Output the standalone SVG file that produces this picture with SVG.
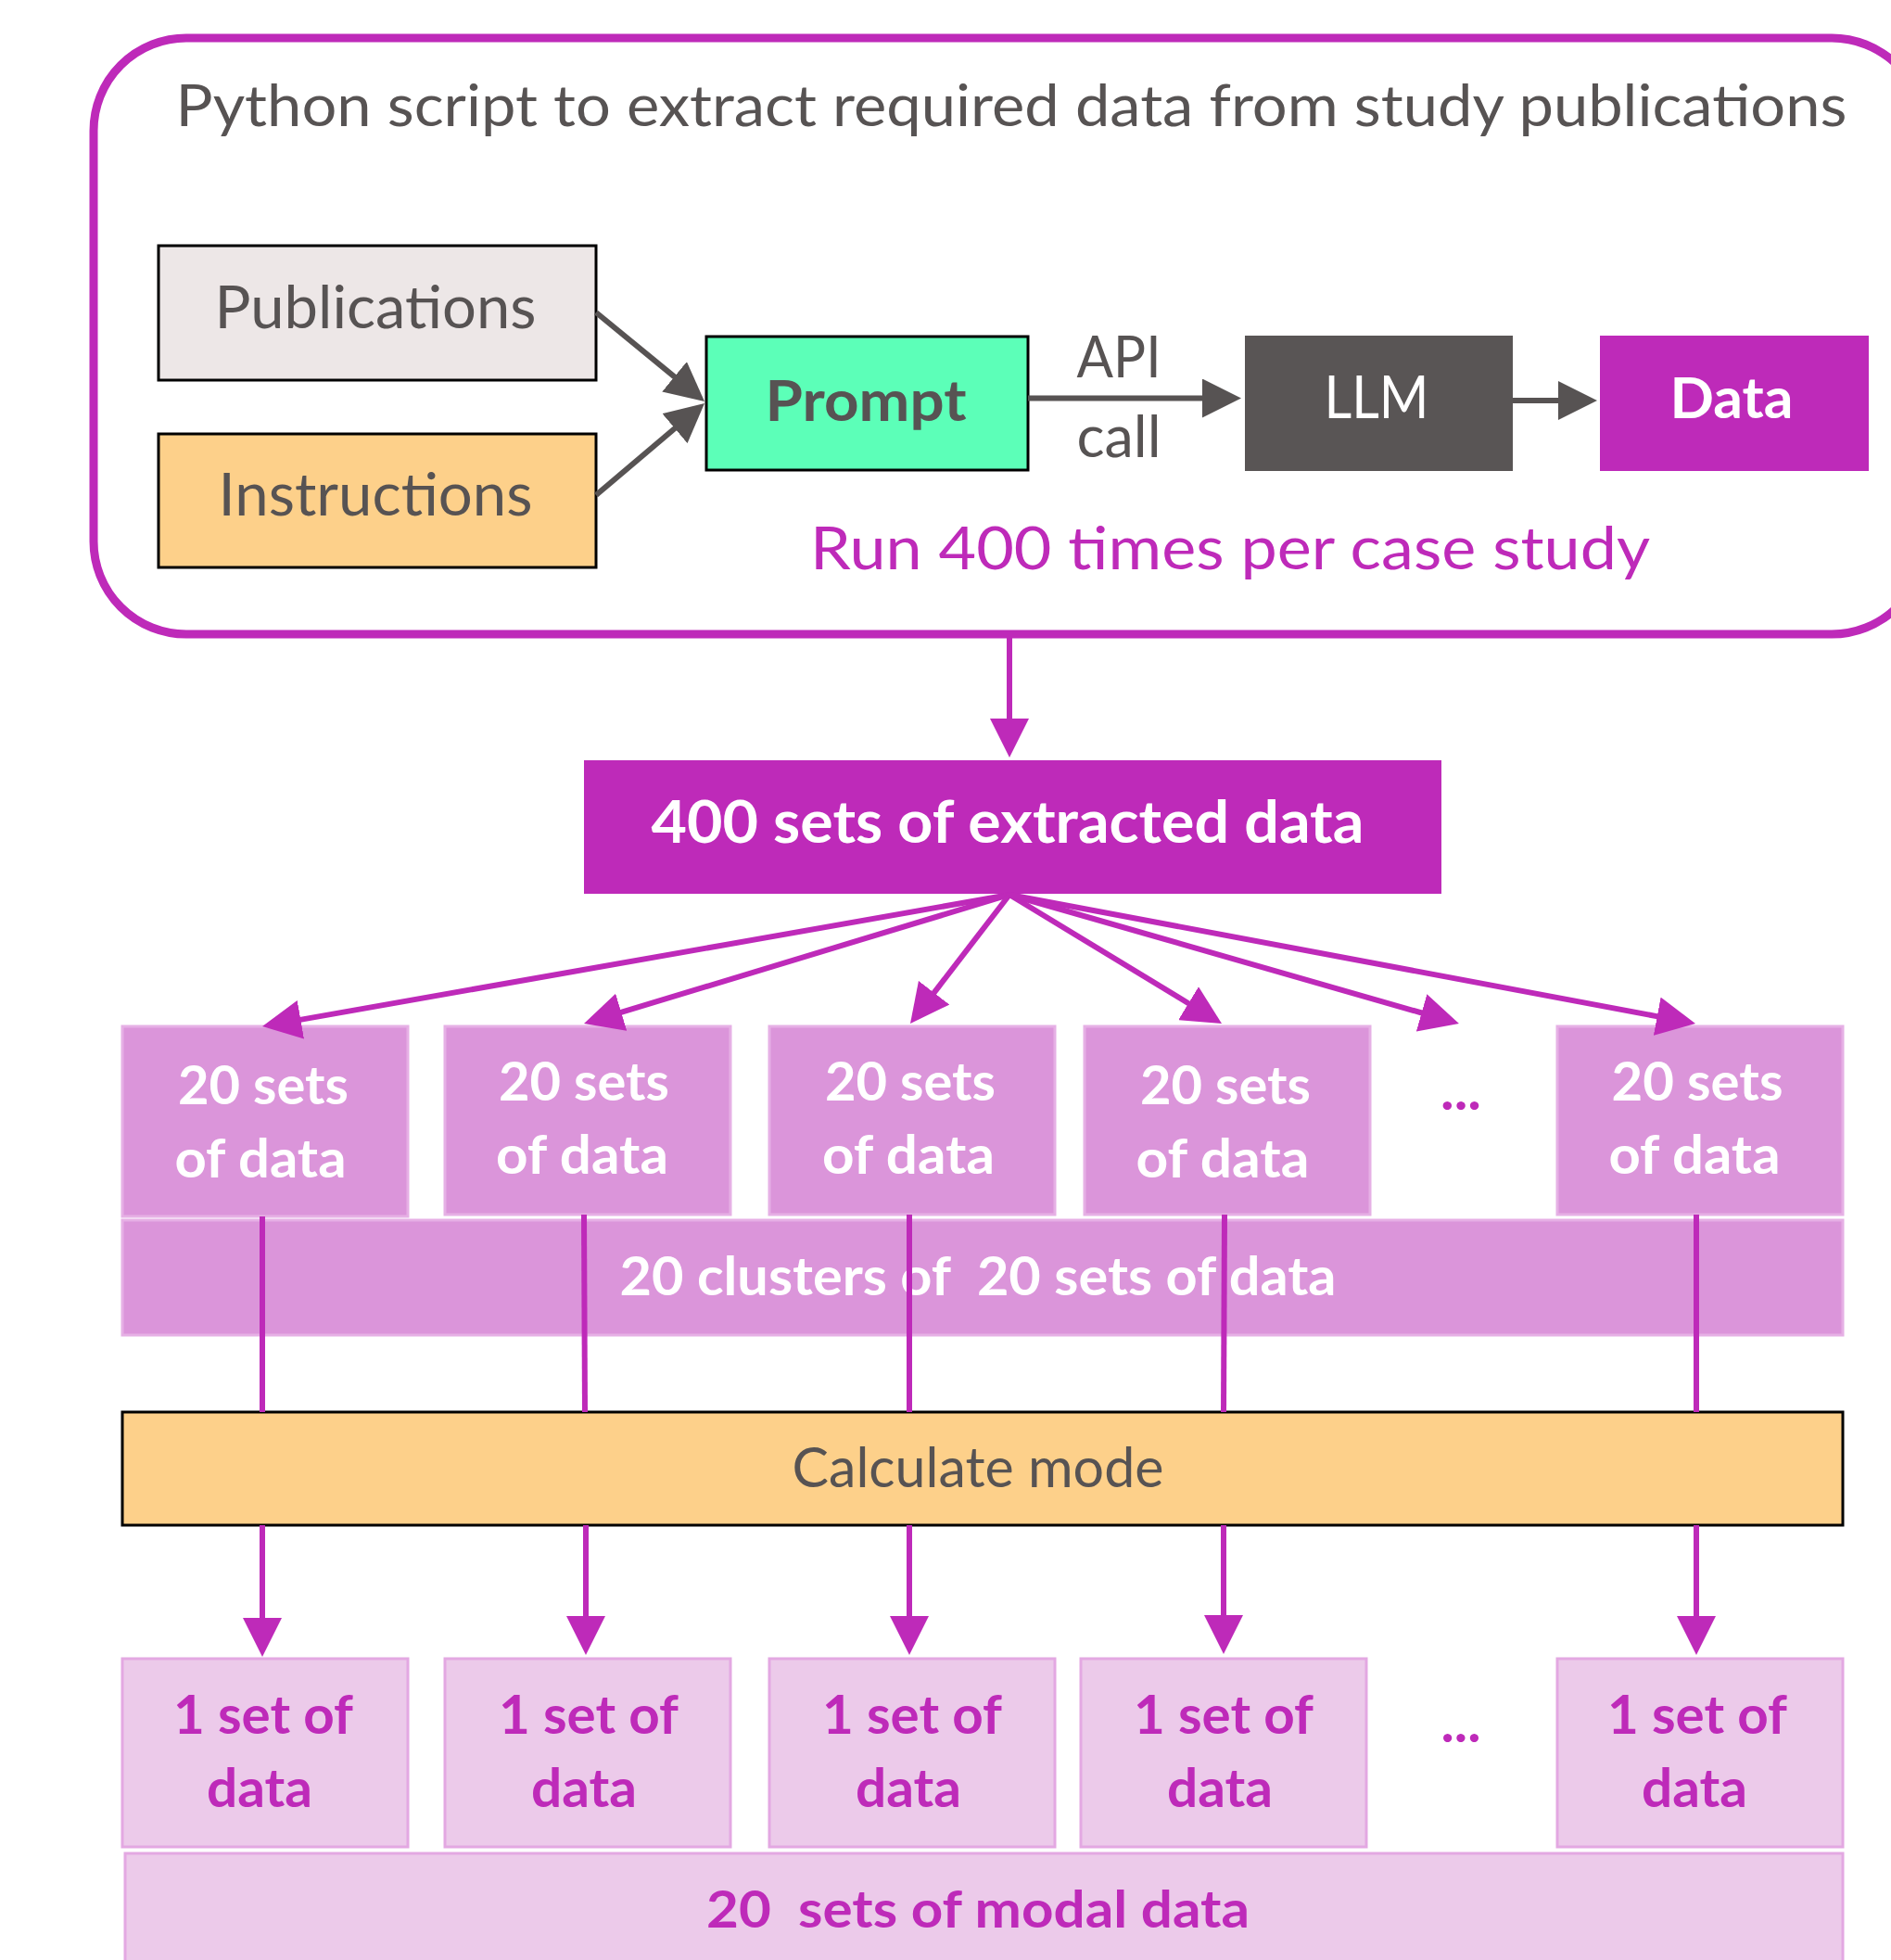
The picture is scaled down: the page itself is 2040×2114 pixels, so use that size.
<svg xmlns="http://www.w3.org/2000/svg" width="2040" height="2114" viewBox="0 0 2040 2114">
  <style>
    text { font-family: Lato, "Open Sans", "Liberation Sans", sans-serif; text-anchor: middle; }
    .gray { fill: #575353; }
    .white { fill: #ffffff; }
    .mag { fill: #BE2AB9; }
    .bold { font-weight: 700; }
    .outlined { stroke: #000000; stroke-width: 3; }
    .set20 { fill: #DB95DA; stroke: #E6B0E5; stroke-width: 3; }
    .set1 { fill: #ECCAEA; stroke: #E3A8E2; stroke-width: 3; }
    .link-gray { stroke: #575353; stroke-width: 6; fill: none; marker-end: url(#head-gray); }
    .link-mag { stroke: #BE2AB9; stroke-width: 6; fill: none; }
    .link-mag.arrow { marker-end: url(#head-mag); }
  </style>
  <defs>
    <marker id="head-gray" markerUnits="userSpaceOnUse" markerWidth="42" markerHeight="42" refX="2" refY="21" orient="auto">
      <path d="M0,0 L42,21 L0,42 z" fill="#575353"/>
    </marker>
    <marker id="head-mag" markerUnits="userSpaceOnUse" markerWidth="42" markerHeight="42" refX="2" refY="21" orient="auto">
      <path d="M0,0 L42,21 L0,42 z" fill="#BE2AB9"/>
    </marker>
  </defs>

  <rect width="2040" height="2114" fill="#ffffff"/>

  <!-- Extraction script container -->
  <g id="script-box">
    <rect x="101" y="41" width="1975" height="643" rx="100" ry="100" fill="#ffffff" stroke="#BE2AB9" stroke-width="9"/>
    <text class="gray" x="1091" y="136" font-size="62" textLength="1803" lengthAdjust="spacingAndGlyphs">Python script to extract required data from study publications</text>
    <text class="mag" x="1327" y="614" font-size="64" textLength="906" lengthAdjust="spacingAndGlyphs">Run 400 times per case study</text>
  </g>

  <g id="publications">
    <rect class="outlined" x="171" y="265" width="472" height="145" fill="#EDE7E7"/>
    <text class="gray" x="405" y="354" font-size="64" textLength="347" lengthAdjust="spacingAndGlyphs">Publications</text>
  </g>

  <g id="instructions">
    <rect class="outlined" x="171" y="468" width="472" height="144" fill="#FDD08A"/>
    <text class="gray" x="405" y="556" font-size="64" textLength="339" lengthAdjust="spacingAndGlyphs">Instructions</text>
  </g>

  <g id="prompt">
    <rect class="outlined" x="762" y="363" width="347" height="144" fill="#5CFFB8"/>
    <text class="gray bold" x="934" y="454" font-size="62" textLength="217" lengthAdjust="spacingAndGlyphs">Prompt</text>
  </g>

  <g id="llm">
    <rect x="1343" y="362" width="289" height="146" fill="#595555"/>
    <text class="white" x="1485" y="451" font-size="64" textLength="113" lengthAdjust="spacingAndGlyphs">LLM</text>
  </g>

  <g id="data">
    <rect x="1726" y="362" width="290" height="146" fill="#BE2AB9"/>
    <text class="white bold" x="1868" y="451" font-size="61" textLength="133" lengthAdjust="spacingAndGlyphs">Data</text>
  </g>

  <g id="extracted-400">
    <rect x="630" y="820" width="925" height="144" fill="#BE2AB9"/>
    <text class="white bold" x="1087" y="909" font-size="64" textLength="769" lengthAdjust="spacingAndGlyphs">400 sets of extracted data</text>
  </g>

  <!-- Clusters of 20 -->
  <g id="cluster-bar">
    <rect class="set20" x="132" y="1316" width="1856" height="124"/>
    <text class="white bold" x="1055" y="1397" font-size="57" textLength="773" lengthAdjust="spacingAndGlyphs" xml:space="preserve">20 clusters of  20 sets of data</text>
  </g>

  <g id="cluster-1">
    <rect class="set20" x="132" y="1107" width="308" height="205"/>
    <text class="white bold" font-size="58"><tspan x="284" y="1191" textLength="184" lengthAdjust="spacingAndGlyphs">20 sets</tspan><tspan x="281" y="1270" textLength="185" lengthAdjust="spacingAndGlyphs">of data</tspan></text>
  </g>
  <g id="cluster-2">
    <rect class="set20" x="480" y="1107" width="308" height="203"/>
    <text class="white bold" font-size="58"><tspan x="630" y="1187" textLength="184" lengthAdjust="spacingAndGlyphs">20 sets</tspan><tspan x="628" y="1266" textLength="186" lengthAdjust="spacingAndGlyphs">of data</tspan></text>
  </g>
  <g id="cluster-3">
    <rect class="set20" x="830" y="1107" width="308" height="203"/>
    <text class="white bold" font-size="58"><tspan x="982" y="1187" textLength="184" lengthAdjust="spacingAndGlyphs">20 sets</tspan><tspan x="980" y="1266" textLength="186" lengthAdjust="spacingAndGlyphs">of data</tspan></text>
  </g>
  <g id="cluster-4">
    <rect class="set20" x="1170" y="1107" width="308" height="203"/>
    <text class="white bold" font-size="58"><tspan x="1322" y="1191" textLength="184" lengthAdjust="spacingAndGlyphs">20 sets</tspan><tspan x="1319" y="1270" textLength="187" lengthAdjust="spacingAndGlyphs">of data</tspan></text>
  </g>
  <g id="cluster-more">
    <text class="mag bold" x="1576" y="1197" font-size="60" textLength="44" lengthAdjust="spacingAndGlyphs">...</text>
  </g>
  <g id="cluster-20">
    <rect class="set20" x="1680" y="1107" width="308" height="203"/>
    <text class="white bold" font-size="58"><tspan x="1831" y="1187" textLength="185" lengthAdjust="spacingAndGlyphs">20 sets</tspan><tspan x="1828" y="1266" textLength="185" lengthAdjust="spacingAndGlyphs">of data</tspan></text>
  </g>

  <g id="calculate-mode">
    <rect class="outlined" x="132" y="1523" width="1856" height="122" fill="#FDD08A"/>
    <text class="gray" x="1055" y="1604" font-size="60" textLength="401" lengthAdjust="spacingAndGlyphs">Calculate mode</text>
  </g>

  <!-- Modal results -->
  <g id="modal-1">
    <rect class="set1" x="132" y="1789" width="308" height="203"/>
    <text class="mag bold" font-size="57"><tspan x="284" y="1870" textLength="194" lengthAdjust="spacingAndGlyphs">1 set of</tspan><tspan x="280" y="1949" textLength="114" lengthAdjust="spacingAndGlyphs">data</tspan></text>
  </g>
  <g id="modal-2">
    <rect class="set1" x="480" y="1789" width="308" height="203"/>
    <text class="mag bold" font-size="57"><tspan x="635" y="1870" textLength="194" lengthAdjust="spacingAndGlyphs">1 set of</tspan><tspan x="630" y="1949" textLength="114" lengthAdjust="spacingAndGlyphs">data</tspan></text>
  </g>
  <g id="modal-3">
    <rect class="set1" x="830" y="1789" width="308" height="203"/>
    <text class="mag bold" font-size="57"><tspan x="984" y="1870" textLength="194" lengthAdjust="spacingAndGlyphs">1 set of</tspan><tspan x="980" y="1949" textLength="114" lengthAdjust="spacingAndGlyphs">data</tspan></text>
  </g>
  <g id="modal-4">
    <rect class="set1" x="1166" y="1789" width="308" height="203"/>
    <text class="mag bold" font-size="57"><tspan x="1320" y="1870" textLength="194" lengthAdjust="spacingAndGlyphs">1 set of</tspan><tspan x="1316" y="1949" textLength="114" lengthAdjust="spacingAndGlyphs">data</tspan></text>
  </g>
  <g id="modal-more">
    <text class="mag bold" x="1576" y="1879" font-size="60" textLength="43" lengthAdjust="spacingAndGlyphs">...</text>
  </g>
  <g id="modal-20">
    <rect class="set1" x="1680" y="1789" width="308" height="203"/>
    <text class="mag bold" font-size="57"><tspan x="1831" y="1870" textLength="194" lengthAdjust="spacingAndGlyphs">1 set of</tspan><tspan x="1828" y="1949" textLength="114" lengthAdjust="spacingAndGlyphs">data</tspan></text>
  </g>

  <g id="modal-bar">
    <rect class="set1" x="135" y="1999" width="1853" height="140"/>
    <text class="mag bold" x="1055" y="2079" font-size="56" textLength="586" lengthAdjust="spacingAndGlyphs" xml:space="preserve">20  sets of modal data</text>
  </g>

  <!-- Connectors -->
  <g id="connectors">
    <!-- inputs into the prompt and the API chain -->
    <line class="link-gray" x1="643" y1="337" x2="729.1" y2="407.6"/>
    <line class="link-gray" x1="643" y1="534" x2="729.5" y2="460.8"/>
    <line class="link-gray" x1="1109" y1="429.5" x2="1299" y2="429.5"/>
    <line class="link-gray" x1="1632" y1="432" x2="1683" y2="432"/>
    <text class="gray" x="1207" y="407" font-size="62" textLength="91" lengthAdjust="spacingAndGlyphs">API</text>
    <text class="gray" x="1207" y="493" font-size="62" textLength="91" lengthAdjust="spacingAndGlyphs">call</text>

    <!-- script output -->
    <line class="link-mag arrow" x1="1089" y1="684" x2="1089" y2="777"/>

    <!-- fan-out into clusters -->
    <line class="link-mag arrow" x1="1089" y1="965" x2="322.4" y2="1100.1"/>
    <line class="link-mag arrow" x1="1089" y1="965" x2="668.3" y2="1092.4"/>
    <line class="link-mag arrow" x1="1089" y1="965" x2="1006.4" y2="1072.3"/>
    <line class="link-mag arrow" x1="1089" y1="965" x2="1283.8" y2="1083.2"/>
    <line class="link-mag arrow" x1="1089" y1="965" x2="1535.5" y2="1093.0"/>
    <line class="link-mag arrow" x1="1089" y1="965" x2="1789.7" y2="1096.6"/>

    <!-- clusters into mode calculation -->
    <line class="link-mag" x1="283" y1="1312" x2="283" y2="1523"/>
    <line class="link-mag" x1="630" y1="1310" x2="631" y2="1523"/>
    <line class="link-mag" x1="981" y1="1310" x2="981" y2="1523"/>
    <line class="link-mag" x1="1321" y1="1310" x2="1320" y2="1523"/>
    <line class="link-mag" x1="1830" y1="1310" x2="1830" y2="1523"/>

    <!-- mode results -->
    <line class="link-mag arrow" x1="283" y1="1645" x2="283" y2="1747"/>
    <line class="link-mag arrow" x1="632" y1="1645" x2="632" y2="1745"/>
    <line class="link-mag arrow" x1="981" y1="1645" x2="981" y2="1745"/>
    <line class="link-mag arrow" x1="1320" y1="1645" x2="1320" y2="1744"/>
    <line class="link-mag arrow" x1="1830" y1="1645" x2="1830" y2="1745"/>
  </g>
</svg>
